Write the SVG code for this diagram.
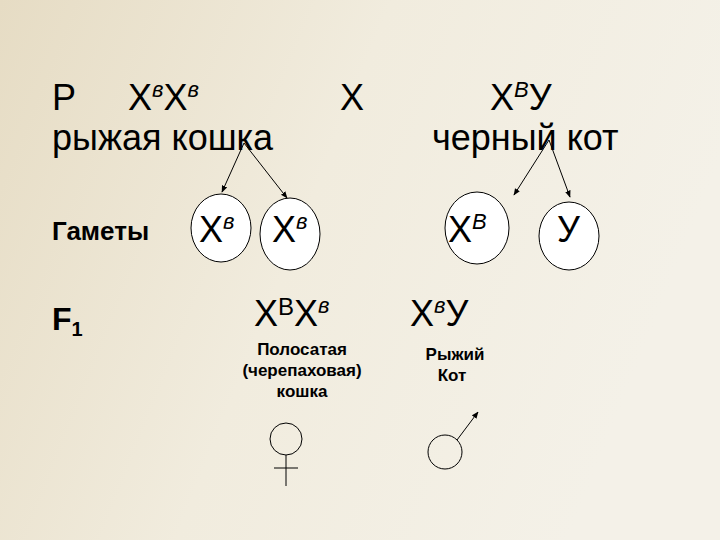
<svg xmlns="http://www.w3.org/2000/svg" width="720" height="540" viewBox="0 0 720 540">
<defs>
<linearGradient id="bg" x1="0" y1="0" x2="1" y2="0.3"><stop offset="0" stop-color="#e6dcc4"/><stop offset="0.5" stop-color="#f1ecde"/><stop offset="1" stop-color="#f4f1e8"/></linearGradient>
<marker id="ah" viewBox="0 0 10 10" refX="9" refY="5" markerWidth="7" markerHeight="7" orient="auto"><path d="M0,1 L10,5 L0,9 z" fill="#000"/></marker>
<style>
.t{font-family:"Liberation Sans",Arial,sans-serif;fill:#000}
.big{font-size:36px}
.sup{font-size:22px;font-style:italic}
.b{font-weight:bold}
.s{font-size:17px;font-weight:bold;text-anchor:middle}
.ln{stroke:#000;stroke-width:1;fill:none}
.g{fill:#fff;stroke:#000;stroke-width:1}
</style>
</defs>
<rect width="720" height="540" fill="url(#bg)"/>
<g id="parents">
<text class="t big" x="52" y="110">P</text>
<text class="t big" x="128" y="110">X<tspan class="sup" dy="-13">в</tspan><tspan dy="13">X</tspan><tspan class="sup" dy="-13">в</tspan></text>
<text class="t big" x="340" y="110">X</text>
<text class="t big" x="490" y="110">X<tspan class="sup" dy="-13">В</tspan><tspan dy="13">У</tspan></text>
<text class="t big" x="52" y="150">рыжая кошка</text>
<text class="t big" x="432" y="150">черный кот</text>
</g>
<g id="connectors">
<line class="ln" x1="244" y1="143" x2="222" y2="192" marker-end="url(#ah)"/>
<line class="ln" x1="244" y1="143" x2="287" y2="198" marker-end="url(#ah)"/>
<line class="ln" x1="549" y1="140" x2="514" y2="195" marker-end="url(#ah)"/>
<line class="ln" x1="549" y1="140" x2="570" y2="197" marker-end="url(#ah)"/>
</g>
<g id="gametes">
<text class="t b" x="52" y="240" font-size="26">Гаметы</text>
<ellipse class="g" cx="221" cy="228" rx="30" ry="34"/>
<text class="t big" x="199" y="242">X<tspan class="sup" dy="-13">в</tspan></text>
<ellipse class="g" cx="290" cy="234" rx="30" ry="36"/>
<text class="t big" x="272" y="242">X<tspan class="sup" dy="-13">в</tspan></text>
<ellipse class="g" cx="477" cy="228" rx="32" ry="36"/>
<text class="t big" x="448" y="242">X<tspan class="sup" dy="-13">В</tspan></text>
<ellipse class="g" cx="569" cy="236" rx="30" ry="34"/>
<text class="t big" x="557" y="242">У</text>
</g>
<g id="f1">
<text class="t b" x="52" y="330" font-size="32">F<tspan font-size="20" dy="6">1</tspan></text>
<text class="t big" x="254" y="326">X<tspan font-size="24" dy="-11">В</tspan><tspan dy="11">X</tspan><tspan class="sup" dy="-13">в</tspan></text>
<text class="t big" x="410" y="326">X<tspan class="sup" dy="-13">в</tspan><tspan dy="13">У</tspan></text>
<text class="t s" x="302" y="355">Полосатая</text>
<text class="t s" x="302" y="376">(черепаховая)</text>
<text class="t s" x="302" y="397">кошка</text>
<text class="t s" x="455" y="360">Рыжий</text>
<text class="t s" x="452" y="381">Кот</text>
</g>
<g id="symbols">
<circle class="ln" cx="286" cy="439" r="16"/>
<line class="ln" x1="286" y1="455" x2="286" y2="486"/>
<line class="ln" x1="274" y1="468" x2="298" y2="468"/>
<circle class="ln" cx="445" cy="452" r="17"/>
<line class="ln" x1="457" y1="440" x2="478" y2="412" marker-end="url(#ah)"/>
</g>
</svg>
